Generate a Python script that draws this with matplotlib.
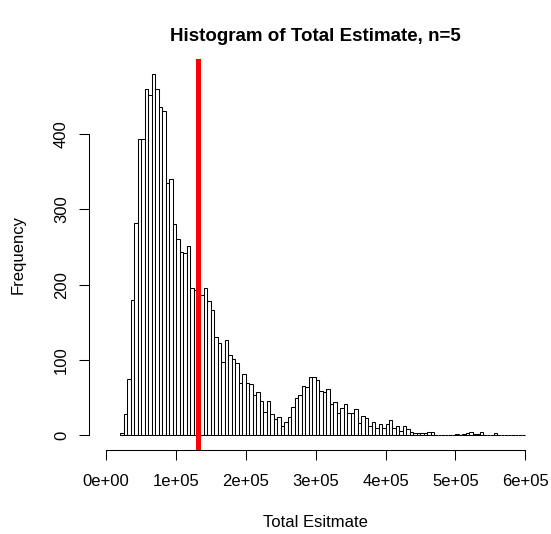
import numpy as np
import matplotlib
matplotlib.use('Agg')
import matplotlib.pyplot as plt

################################ data
bin_start = 20000
bin_width = 5000
counts = [3, 28, 75, 180, 282, 394, 393, 460, 452, 480,
          460, 436, 430, 335, 340, 280, 261, 244, 242, 251,
          196, 193, 188, 186, 195, 178, 166, 130, 123, 97,
          126, 107, 102, 96, 69, 82, 70, 68, 54, 58,
          46, 31, 45, 28, 22, 24, 13, 18, 25, 37,
          50, 54, 66, 64, 78, 77, 74, 59, 57, 61,
          42, 44, 30, 36, 42, 30, 30, 35, 17, 26,
          23, 13, 18, 10, 15, 10, 15, 21, 10, 12,
          6, 13, 8, 5, 3, 3, 3, 3, 4, 4,
          1, 0, 1, 0, 1, 1, 2, 1, 2, 3,
          5, 2, 2, 4, 1, 1, 1, 3, 1, 0,
          1, 1, 0, 1, 1, 0]
true_total = 131700

x_ticks = [0, 100000, 200000, 300000, 400000, 500000, 600000]
x_tick_labels = ['0e+00', '1e+05', '2e+05', '3e+05', '4e+05', '5e+05', '6e+05']
y_ticks = [0, 100, 200, 300, 400]
y_tick_labels = ['0', '100', '200', '300', '400']

title = 'Histogram of Total Estimate, n=5'
x_label = 'Total Esitmate'
y_label = 'Frequency'

################################ plot
plt.rcParams['font.family'] = ['Liberation Sans', 'DejaVu Sans']

fig = plt.figure(figsize=(5.51, 5.34), dpi=100)
ax = fig.add_axes([0.1624, 0.1577, 0.8211, 0.7311])

edges = bin_start + bin_width * np.arange(len(counts))
ax.bar(edges, counts, width=bin_width, align='edge',
       facecolor='white', edgecolor='black', linewidth=0.75)
ax.axvline(true_total, color='#ff0000', linewidth=3.6)

ax.set_xlim(-24000, 624000)
ax.set_ylim(-19.2, 499.2)

for s in ['top', 'right']:
    ax.spines[s].set_visible(False)
ax.spines['bottom'].set_bounds(x_ticks[0], x_ticks[-1])
ax.spines['left'].set_bounds(y_ticks[0], y_ticks[-1])
ax.spines['bottom'].set_linewidth(0.75)
ax.spines['left'].set_linewidth(0.75)

ax.set_xticks(x_ticks)
ax.set_xticklabels(x_tick_labels)
ax.set_yticks(y_ticks)
ax.set_yticklabels(y_tick_labels, rotation=90, va='center')
ax.tick_params(axis='both', which='major', labelsize=12, width=0.75, length=7.2,
               direction='out')
ax.tick_params(axis='x', pad=10)
ax.tick_params(axis='y', pad=7.5)

ax.set_title(title, fontsize=13.5, fontweight='bold', pad=13)
ax.set_xlabel(x_label, fontsize=12)
ax.xaxis.set_label_coords(0.5, -0.185)
ax.xaxis.label.set_va('center')
ax.set_ylabel(y_label, fontsize=12)
ax.yaxis.set_label_coords(-0.158, 0.5)
ax.yaxis.label.set_va('center')

fig.savefig('out.png', dpi=100)
